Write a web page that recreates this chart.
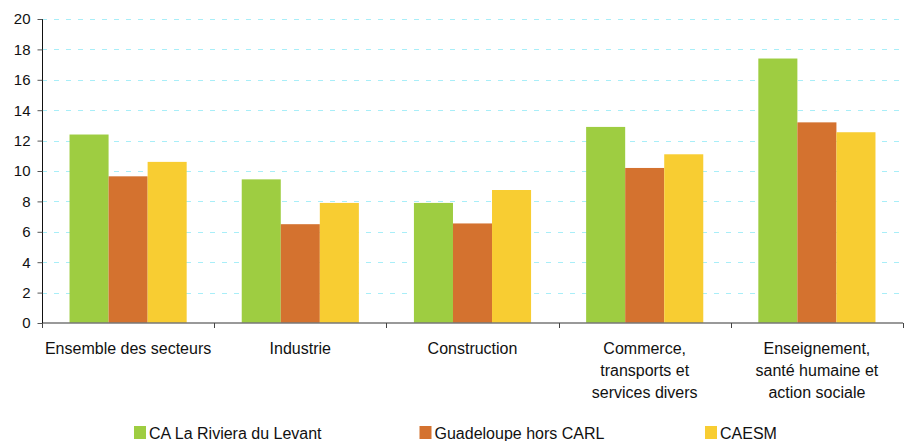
<!DOCTYPE html>
<html>
<head>
<meta charset="utf-8">
<script src="https://cdn.jsdelivr.net/npm/d3@7"></script>
<style>
  body { margin: 0; background: #fff; }
  text { font-family: "Liberation Sans", Arial, sans-serif; fill: #111; }
</style>
</head>
<body>
<div id="chart"></div>
<script>
// Categories (x axis), with line breaks as in the original
var categories = [
  ["Ensemble des secteurs"],
  ["Industrie"],
  ["Construction"],
  ["Commerce,", "transports et", "services divers"],
  ["Enseignement,", "santé humaine et", "action sociale"]
];

// Series names and values
var seriesNames = ["CA La Riviera du Levant", "Guadeloupe hors CARL", "CAESM"];
var rivieraValues = [12.4, 9.45, 7.9, 12.9, 17.4];
var guadeloupeValues = [9.65, 6.5, 6.55, 10.2, 13.2];
var caesmValues = [10.6, 7.9, 8.75, 11.1, 12.55];

// Y tick labels
var yTicks = [0, 2, 4, 6, 8, 10, 12, 14, 16, 18, 20];

var colors = ["#9ECD41", "#D4722F", "#F8CD32"];

var width = 908;
var height = 441;
var margin = { top: 19, right: 5, bottom: 118, left: 42 };

var svg = d3
  .select("#chart")
  .append("svg")
  .attr("width", width)
  .attr("height", height);

var x = d3
  .scaleBand()
  .domain(d3.range(categories.length))
  .range([margin.left, width - margin.right])
  .paddingInner(0)
  .paddingOuter(0);

// Bars within a group: three of ~39px centred in the band
var xInner = d3
  .scaleBand()
  .domain(d3.range(seriesNames.length))
  .range([0, x.bandwidth()])
  .paddingOuter(0.705)
  .paddingInner(0);

var y = d3
  .scaleLinear()
  .domain([0, 20])
  .range([height - margin.bottom, margin.top]);

// Horizontal dashed gridlines
svg
  .selectAll("line.grid")
  .data(yTicks.filter((d) => d > 0))
  .enter()
  .append("line")
  .attr("class", "grid")
  .attr("x1", margin.left)
  .attr("x2", width - margin.right)
  .attr("y1", (d) => Math.round(y(d)) + 0.5)
  .attr("y2", (d) => Math.round(y(d)) + 0.5)
  .attr("stroke", "#A8EEF8")
  .attr("stroke-width", 1.2)
  .attr("stroke-dasharray", "5,7");

// Bars
var allSeries = [rivieraValues, guadeloupeValues, caesmValues];
allSeries.forEach(function (values, s) {
  svg
    .selectAll("rect.s" + s)
    .data(values)
    .enter()
    .append("rect")
    .attr("class", "s" + s)
    .attr("x", (d, i) => x(i) + xInner(s))
    .attr("y", (d) => y(d))
    .attr("width", xInner.bandwidth())
    .attr("height", (d) => y(0) - y(d))
    .attr("fill", colors[s]);
});

// X axis line and ticks at category boundaries
var x0 = y(0);
svg
  .append("line")
  .attr("x1", margin.left)
  .attr("x2", width - margin.right)
  .attr("y1", x0)
  .attr("y2", x0)
  .attr("stroke", "#777")
  .attr("stroke-width", 1.5);

svg
  .selectAll("line.xtick")
  .data(d3.range(categories.length + 1))
  .enter()
  .append("line")
  .attr("class", "xtick")
  .attr("x1", (d) => Math.round(margin.left + d * x.step()) + 0.5)
  .attr("x2", (d) => Math.round(margin.left + d * x.step()) + 0.5)
  .attr("y1", x0)
  .attr("y2", x0 + 5)
  .attr("stroke", "#444")
  .attr("stroke-width", 1);

// Y axis
var yAxis = d3
  .axisLeft(y)
  .tickValues(yTicks)
  .tickSize(5)
  .tickPadding(7);

var gy = svg
  .append("g")
  .attr("transform", "translate(" + (margin.left + 0.5) + ",0)")
  .call(yAxis);
gy.select(".domain").attr("stroke", "#111").attr("d", "M0," + y(20) + "V" + y(0));
gy.selectAll(".tick line").attr("stroke", "#555");
gy.selectAll(".tick text")
  .style("font-size", "15px")
  .style("font-family", "Liberation Sans, Arial, sans-serif")
  .attr("fill", "#111");

// Category labels
var labels = svg
  .selectAll("text.cat")
  .data(categories)
  .enter()
  .append("text")
  .attr("class", "cat")
  .attr("text-anchor", "middle")
  .style("font-size", "16px");

labels
  .selectAll("tspan")
  .data((d, i) => d.map((line) => ({ line: line, i: i })))
  .enter()
  .append("tspan")
  .attr("x", (d) => x(d.i) + x.bandwidth() / 2)
  .attr("y", (d, j) => 354 + j * 22)
  .text((d) => d.line);

// Legend
var legend = svg
  .selectAll("g.legend")
  .data(seriesNames)
  .enter()
  .append("g")
  .attr("class", "legend")
  .attr("transform", (d, i) => "translate(" + (134 + i * 285.5) + ",426)");

legend
  .append("rect")
  .attr("width", 12)
  .attr("height", 13)
  .attr("fill", (d, i) => colors[i]);

legend
  .append("text")
  .attr("x", 15)
  .attr("y", 12.5)
  .style("font-size", "16px")
  .text((d) => d);
</script>
</body>
</html>
